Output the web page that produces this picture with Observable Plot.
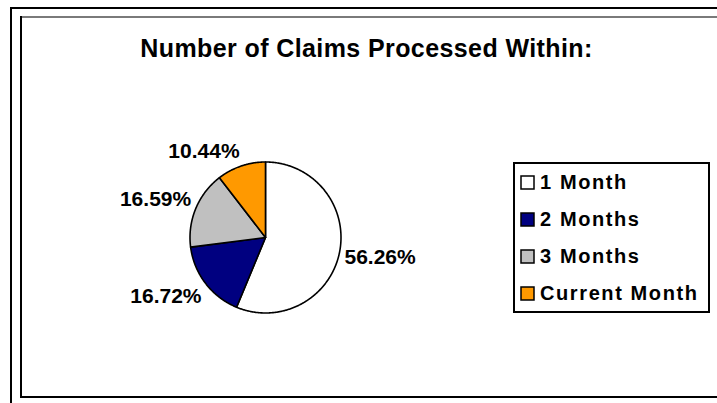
<!DOCTYPE html>
<html><head><meta charset="utf-8">
<script src="https://cdn.jsdelivr.net/npm/d3@7"></script>
<script src="https://cdn.jsdelivr.net/npm/@observablehq/plot@0.6"></script>
<style>
html,body{margin:0;padding:0;background:#fff;}
#wrap{position:relative;width:717px;height:403px;overflow:hidden;font-family:Arial,"Liberation Sans",sans-serif;color:#000;}
.ln{position:absolute;}
#title{position:absolute;left:0;width:733px;top:34px;text-align:center;font-weight:bold;font-size:25px;letter-spacing:0.4px;white-space:nowrap;}
#pie{position:absolute;left:104.5px;top:87px;}
#legend{position:absolute;left:513px;top:162px;width:197px;height:151px;border:2px solid #000;box-sizing:border-box;padding:0 0 0 6px;}
#legend .lg-swatches{font-family:Arial,"Liberation Sans",sans-serif;font-size:20px;font-weight:bold;letter-spacing:1.6px;margin:0;color:#000;}
#legend .lg-swatch{height:37px;display:flex;align-items:center;padding:0;margin:0;}
#legend .lg-swatch > svg{margin-right:6px;overflow:visible;}
#legend .lg-swatch > svg rect{stroke:#000;stroke-width:1.5px;}
</style></head>
<body>
<div id="wrap">
  <div class="ln" style="left:10px;top:7px;width:707px;height:2px;background:#000"></div>
  <div class="ln" style="left:10px;top:7px;width:2px;height:396px;background:#000"></div>
  <div class="ln" style="left:20px;top:16px;width:697px;height:2px;background:#7a7a7a"></div>
  <div class="ln" style="left:20px;top:16px;width:2px;height:382px;background:#000"></div>
  <div class="ln" style="left:20px;top:396px;width:697px;height:2px;background:#000"></div>
  <div id="title">Number of Claims Processed Within:</div>
  <div id="pie"></div>
  <div id="legend"></div>
</div>
<script>
// data
const categories = ["1 Month", "2 Months", "3 Months", "Current Month"];
const percents = [56.26, 16.72, 16.59, 10.44];
const colors = ["#FFFFFF", "#000080", "#C0C0C0", "#FF9900"];

// layout
const R = 75.5, W = 320, H = 300;
const kx = W / 2 / R, ky = H / 2 / R;
const labelFont = "bold 21px Arial, 'Liberation Sans', sans-serif";
const ctx = document.createElement("canvas").getContext("2d");
ctx.font = labelFont;

const arcs = d3.pie().sort(null).value(d => d)(percents);

const marks = [];
arcs.forEach((a, i) => {
  const pts = [[0, 0]];
  const n = Math.max(2, Math.ceil((a.endAngle - a.startAngle) / (Math.PI / 360)));
  for (let k = 0; k <= n; k++) {
    const t = a.startAngle + (a.endAngle - a.startAngle) * k / n;
    pts.push([Math.sin(t), Math.cos(t)]);
  }
  pts.push([0, 0]);
  marks.push(Plot.line(pts, {x: d => d[0], y: d => d[1], fill: colors[i], stroke: "#000", strokeWidth: 1.6, strokeLinejoin: "round"}));
});

const labels = arcs.map((a, i) => {
  const text = percents[i].toFixed(2) + "%";
  const w = ctx.measureText(text).width, h = 20, d = 5;
  const mid = (a.startAngle + a.endAngle) / 2;
  const dx = Math.sin(mid), dyS = -Math.cos(mid);
  const ox = (R + d) * dx + Math.sign(dx) * w / 2;
  const oy = (R + d) * dyS + Math.sign(dyS) * Math.min(1, Math.abs(dyS) * 2) * h / 2;
  return {x: ox / R, y: -oy / R, text};
});
marks.push(Plot.text(labels, {x: "x", y: "y", text: "text", fontSize: 21, fontWeight: "bold", fill: "#000", textAnchor: "middle", lineAnchor: "middle"}));

const chart = Plot.plot({
  width: W, height: H, margin: 0,
  x: {domain: [-kx, kx], axis: null},
  y: {domain: [-ky, ky], axis: null},
  style: {fontFamily: "Arial, 'Liberation Sans', sans-serif", background: "transparent", overflow: "visible"},
  marks
});
document.getElementById("pie").appendChild(chart);

const legend = Plot.legend({
  color: {type: "ordinal", domain: categories, range: colors},
  columns: 1, swatchSize: 13, className: "lg"
});
document.getElementById("legend").appendChild(legend);
</script>
</body></html>
